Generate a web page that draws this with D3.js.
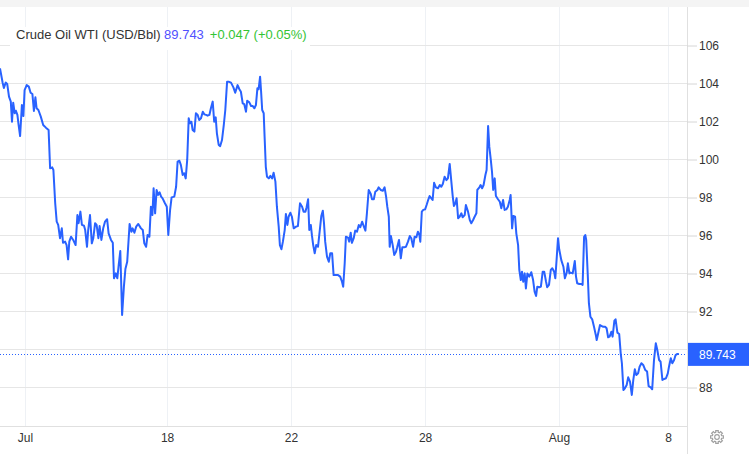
<!DOCTYPE html>
<html>
<head>
<meta charset="utf-8">
<script src="https://cdn.jsdelivr.net/npm/d3@7"></script>
<style>
  body { margin: 0; background: #fff; }
  svg { display: block; font-family: Arial, "Liberation Sans", sans-serif; }
</style>
</head>
<body>
<div id="chart"></div>
<script>
// bar index along the session axis (weekends removed)
const times = [
  0, 0.9, 1.3, 1.9, 2.4, 3.0, 3.6, 4.0, 4.4, 4.9, 5.3, 5.8, 6.2, 6.7, 7.3, 7.8, 8.2, 8.9, 9.6, 10.2,
  10.8, 11.3, 11.8, 12.2, 12.8, 13.6, 14.4, 15.3, 16.2, 16.7, 17.4, 17.8, 18.4, 18.9, 19.4, 20.0, 20.6, 21.0, 21.7, 22.2,
  22.7, 23.1, 23.7, 24.4, 25.2, 25.8, 26.2, 26.8, 27.3, 28.0, 28.4, 29.0, 29.4, 30.0, 30.6, 31.1, 31.7, 32.2, 32.8, 33.2,
  33.8, 34.4, 35.0, 35.7, 36.2, 37.0, 37.6, 38.0, 38.6, 39.1, 39.6, 40.1, 40.7, 41.3, 41.8, 42.4, 43.2, 43.8, 44.2, 44.8,
  45.4, 46.1, 47.0, 47.6, 48.1, 48.7, 49.2, 49.8, 50.3, 50.8, 51.2, 51.7, 52.2, 52.7, 53.2, 53.7, 54.2, 54.9, 55.6, 56.1,
  56.7, 57.2, 58.1, 58.7, 59.2, 59.8, 60.3, 60.9, 61.4, 61.9, 62.4, 62.9, 63.3, 63.8, 64.2, 64.8, 65.3, 65.9, 66.4, 67.0,
  67.6, 68.1, 68.7, 69.2, 69.8, 70.3, 70.9, 71.4, 71.9, 72.3, 72.9, 73.4, 74.0, 74.6, 75.1, 75.7, 76.2, 77.0, 77.8, 78.4,
  79.2, 79.8, 80.3, 80.9, 81.4, 82.0, 82.4, 83.1, 83.7, 84.2, 84.8, 85.3, 85.8, 86.2, 86.7, 87.0, 87.4, 87.9, 88.2, 88.6,
  89.0, 89.6, 90.1, 90.7, 91.2, 91.8, 92.3, 92.9, 93.3, 93.8, 94.3, 94.9, 95.3, 95.8, 96.2, 96.8, 97.3, 97.9, 98.7, 99.3,
  100.0, 100.7, 101.2, 101.8, 102.2, 102.7, 103.1, 103.6, 104.0, 104.4, 104.9, 105.4, 106.0, 106.6, 107.1, 107.6, 108.0, 108.4, 109.0, 109.6,
  110.1, 110.7, 111.2, 112.0, 112.7, 113.4, 114.0, 114.4, 114.9, 115.3, 116.0, 116.4, 116.9, 117.3, 117.9, 118.4, 119.0, 119.6, 120.1, 120.7,
  121.3, 121.8, 122.3, 122.9, 123.6, 124.0, 124.6, 125.1, 125.8, 126.2, 126.9, 127.6, 128.2, 128.7, 129.1, 129.6, 129.9, 130.3, 130.9, 131.4,
  132.0, 132.4, 133.0, 133.6, 134.1, 134.7, 135.3, 136.0, 136.6, 137.1, 137.7, 138.2, 138.8, 139.3, 139.8, 140.1, 140.6, 141.1, 141.7, 142.2,
  142.8, 143.2, 143.8, 144.2, 144.7, 145.3, 146.0, 146.6, 147.1, 147.6, 148.2, 148.8, 149.3, 149.9, 150.4, 150.9, 151.3, 151.8, 152.2, 152.7,
  153.2, 153.8, 154.2, 154.9, 155.3, 156.0, 156.6, 157.1, 157.7, 158.2, 158.8, 159.1, 159.8, 160.2, 160.7, 161.2, 161.8, 162.2, 162.7, 163.1,
  163.6, 164.0, 164.4, 164.9, 165.3, 166.0, 166.6, 167.1, 167.7, 168.2, 168.8, 169.3, 169.9, 170.2, 170.7, 171.1, 171.7, 172.1, 172.7, 173.1,
  173.6, 174.0, 174.4, 174.9, 175.3, 175.8, 176.4, 177.1, 177.7, 178.2, 178.7, 179.1, 179.8, 180.3, 180.9, 181.4, 182.0, 182.4, 183.0, 183.6,
  184.1, 184.7, 185.1, 185.6, 186.0, 186.4, 187.1, 187.8, 188.3, 188.9, 189.3, 189.8, 190.2, 190.9, 191.6, 192.0, 192.4, 193.1, 193.8, 194.2,
  194.7, 195.1, 195.4, 195.9, 196.3, 196.8, 197.4, 198.0, 198.6, 198.9, 199.4, 200.0, 200.6, 201.1, 201.7, 202.2, 202.7, 203.2, 203.8, 204.2,
  204.8, 205.2, 205.8, 206.4, 206.9, 207.3, 207.8, 208.3, 208.9, 209.4, 210.0, 210.6, 211.1, 211.6, 212.1, 212.7, 213.2, 213.8, 214.4, 215.1,
  215.7, 216.2, 216.9, 217.4, 218.0, 218.6, 219.1, 219.7, 220.2, 220.8, 221.3, 222.0, 222.6, 223.0, 223.6, 224.1, 224.7, 225.2, 225.8, 226.3
]
const prices = [
  104.77, 104.0, 103.74, 104.02, 103.95, 103.28, 103.02, 101.96, 102.96, 102.41, 102.54, 102.32, 101.79, 101.21, 102.84, 102.26, 103.63, 103.89, 103.81, 103.49,
  103.42, 102.53, 103.25, 102.67, 102.58, 102.23, 101.79, 101.65, 101.53, 99.51, 99.56, 99.42, 97.67, 96.70, 96.53, 95.83, 96.35, 95.59, 95.65, 95.47,
  94.72, 95.65, 95.91, 95.74, 95.47, 97.05, 96.62, 97.23, 96.53, 96.49, 96.26, 95.38, 96.26, 97.05, 95.56, 95.83, 96.62, 96.53, 95.83, 96.47,
  95.74, 96.35, 96.70, 96.83, 96.09, 95.74, 95.59, 93.72, 93.98, 93.72, 94.47, 95.16, 91.79, 93.28, 94.21, 94.59, 96.58, 96.17, 96.35, 96.12,
  96.44, 96.58, 96.35, 96.26, 95.56, 95.38, 96.0, 95.91, 97.49, 97.05, 98.46, 97.14, 98.37, 98.11, 98.25, 98.02, 97.93, 97.70, 97.49, 96.0,
  97.32, 97.98, 98.02, 98.54, 99.86, 99.91, 99.68, 99.16, 99.25, 98.98, 99.95, 102.14, 101.88, 101.96, 101.53, 101.44, 102.41, 102.32, 102.05, 102.14,
  102.49, 102.35, 102.32, 102.28, 102.32, 102.67, 103.02, 101.96, 102.19, 101.35, 100.74, 100.68, 101.0, 101.79, 102.58, 104.07, 104.07, 104.02, 103.77, 103.49,
  103.89, 103.67, 103.54, 102.93, 102.89, 102.49, 103.07, 102.98, 102.79, 102.79, 102.67, 102.84, 103.72, 103.67, 104.33, 103.63, 102.58, 102.41, 101.17, 99.59,
  99.07, 98.98, 99.11, 98.98, 99.28, 98.81, 97.49, 96.44, 95.47, 95.25, 95.65, 96.26, 97.11, 96.53, 96.96, 97.17, 96.96, 96.35, 96.44, 96.47,
  97.67, 97.49, 97.23, 97.23, 97.46, 97.88, 96.26, 96.53, 95.95, 95.47, 95.04, 95.47, 95.38, 96.26, 97.0, 97.28, 96.62, 95.65, 94.86, 94.59,
  95.04, 95.04, 93.89, 93.89, 93.89, 93.81, 93.54, 93.28, 94.51, 95.91, 95.86, 95.65, 96.12, 95.59, 95.83, 96.23, 96.17, 96.53, 96.41, 96.70,
  96.44, 96.23, 97.14, 98.37, 98.16, 97.88, 97.88, 98.28, 98.37, 98.51, 98.37, 98.33, 98.51, 98.02, 97.49, 96.96, 95.38, 95.95, 95.47, 94.95,
  95.12, 95.35, 95.74, 94.77, 95.35, 95.35, 95.38, 95.65, 95.95, 95.83, 95.38, 95.91, 95.88, 96.17, 96.0, 95.65, 97.23, 97.32, 97.35, 97.58,
  97.88, 98.05, 97.93, 97.84, 98.75, 98.51, 98.46, 98.63, 98.54, 98.68, 99.07, 98.89, 98.98, 99.74, 98.89, 98.05, 97.53, 97.67, 97.93, 96.88,
  96.96, 97.14, 96.93, 97.05, 97.58, 97.23, 96.79, 96.62, 96.79, 96.96, 97.14, 98.37, 98.51, 98.63, 98.46, 98.63, 99.16, 99.42, 101.74, 100.65,
  99.95, 99.33, 98.37, 98.98, 98.05, 97.88, 97.75, 97.41, 97.84, 97.32, 97.35, 97.49, 97.84, 98.11, 96.35, 97.0, 96.96, 96.09, 95.47, 94.16,
  93.63, 94.07, 93.54, 93.98, 93.19, 93.98, 93.81, 94.04, 93.63, 93.02, 92.79, 93.28, 93.25, 93.28, 94.07, 94.07, 93.55, 93.25, 93.37, 94.16,
  94.25, 94.07, 93.72, 94.86, 95.83, 95.25, 94.68, 94.33, 93.72, 94.02, 94.51, 93.98, 94.02, 93.98, 94.63, 93.81, 93.46, 93.42, 93.42, 93.37,
  95.91, 96.0, 95.74, 93.98, 92.41, 91.70, 91.56, 91.17, 90.74, 90.47, 90.83, 91.26, 91.21, 91.17, 91.17, 91.09, 90.62, 90.65, 90.91, 90.65,
  91.49, 91.56, 90.86, 90.79, 89.77, 89.25, 87.84, 87.93, 88.11, 88.51, 88.28, 87.58, 88.37, 88.93, 88.63, 88.72, 89.07, 89.25, 89.16, 88.89,
  88.81, 88.05, 87.98, 87.88, 89.42, 90.30, 89.95, 89.42, 89.33, 88.37, 88.41, 88.46, 88.72, 89.07, 89.51, 89.25, 89.42, 89.68, 89.74, 89.743
]
const tickLabels = ['Jul', '18', '22', '28', 'Aug', '8']
const tickTimes = [8.3, 55.7, 97, 141.7, 186.3, 222.7]
const gridValues = [88, 90, 92, 94, 96, 98, 100, 102, 104, 106]
const yTicks = [88, 92, 94, 96, 98, 100, 102, 104, 106]
const lastPrice = 89.743
const change = '+0.047 (+0.05%)'

const width = 749, height = 454
const plot = { left: 0, right: 687, top: 7, bottom: 426 }
const lineColor = '#2962ff'
const gridColor = '#e6e6e6'

const svg = d3.select('#chart').append('svg')
  .attr('width', width)
  .attr('height', height)

// top gray band
svg.append('rect')
  .attr('x', 0).attr('y', 0)
  .attr('width', width).attr('height', plot.top)
  .attr('fill', '#f4f4f4')

const xScale = d3.scaleLinear()
  .domain([0, 229])
  .range([plot.left, plot.right])

const yScale = d3.scaleLinear()
  .domain([86, 108])
  .range([425, plot.top])

// vertical grid
svg.append('g')
  .selectAll('line')
  .data(tickTimes)
  .join('line')
  .attr('x1', d => Math.round(xScale(d)) + 0.5)
  .attr('x2', d => Math.round(xScale(d)) + 0.5)
  .attr('y1', plot.top)
  .attr('y2', plot.bottom)
  .attr('stroke', '#eef1f5')

// horizontal grid
svg.append('g')
  .selectAll('line')
  .data(gridValues)
  .join('line')
  .attr('x1', plot.left)
  .attr('x2', plot.right)
  .attr('y1', d => Math.round(yScale(d)) + 0.5)
  .attr('y2', d => Math.round(yScale(d)) + 0.5)
  .attr('stroke', gridColor)

// bottom axis line and right border
svg.append('line')
  .attr('x1', 0).attr('x2', plot.right)
  .attr('y1', plot.bottom + 0.5).attr('y2', plot.bottom + 0.5)
  .attr('stroke', '#e0e0e0')
svg.append('line')
  .attr('x1', plot.right + 0.5).attr('x2', plot.right + 0.5)
  .attr('y1', plot.top).attr('y2', height)
  .attr('stroke', '#e0e0e0')

// right axis (90 sits under the price label)
const yAxis = d3.axisRight(yScale)
  .tickValues(yTicks)
  .tickSize(10)
  .tickPadding(2)
  .tickFormat(d3.format('d'))
const yAxisGroup = svg.append('g')
  .attr('transform', `translate(${plot.right}, 0.5)`)
  .call(yAxis)
yAxisGroup.select('.domain').remove()
yAxisGroup.selectAll('line').attr('stroke', '#d6d6d6')
yAxisGroup.selectAll('text')
  .attr('fill', '#333')
  .style('font-size', '12px')
  .style('font-family', 'Arial, "Liberation Sans", sans-serif')

// bottom axis labels
const xAxis = d3.axisBottom(xScale)
  .tickValues(tickTimes)
  .tickSize(0)
  .tickPadding(7)
  .tickFormat((d, i) => tickLabels[i])
const xAxisGroup = svg.append('g')
  .attr('transform', `translate(0, ${plot.bottom})`)
  .call(xAxis)
xAxisGroup.select('.domain').remove()
xAxisGroup.selectAll('text')
  .attr('fill', '#333')
  .style('font-size', '12px')
  .style('font-family', 'Arial, "Liberation Sans", sans-serif')

// last price dotted line
svg.append('line')
  .attr('x1', 0).attr('x2', plot.right)
  .attr('y1', Math.round(yScale(lastPrice)) + 0.5)
  .attr('y2', Math.round(yScale(lastPrice)) + 0.5)
  .attr('stroke', lineColor)
  .attr('stroke-dasharray', '1,2')

// price line
const line = d3.line()
  .x((d, i) => xScale(times[i]))
  .y(d => yScale(d))
svg.append('path')
  .datum(prices)
  .attr('d', line)
  .attr('fill', 'none')
  .attr('stroke', lineColor)
  .attr('stroke-width', 2)
  .attr('stroke-linejoin', 'round')

// price label on the axis
const py = yScale(lastPrice)
svg.append('rect')
  .attr('x', plot.right + 1)
  .attr('y', py - 11)
  .attr('width', width - plot.right - 1)
  .attr('height', 23)
  .attr('fill', lineColor)
svg.append('text')
  .attr('x', plot.right + 12)
  .attr('y', py + 5)
  .attr('fill', '#fff')
  .style('font-size', '12px')
  .text(lastPrice.toFixed(3))

// legend
const legend = svg.append('g')
legend.append('rect')
  .attr('x', 10).attr('y', 27)
  .attr('width', 300).attr('height', 23)
  .attr('fill', '#fff')
const legendText = legend.append('text')
  .attr('x', 16)
  .attr('y', 39)
  .style('font-size', '13px')
legendText.append('tspan').attr('fill', '#333').text('Crude Oil WTI (USD/Bbl) ')
legendText.append('tspan').attr('fill', '#5050ff').text(lastPrice.toFixed(3))
legendText.append('tspan').attr('fill', '#33c433').attr('dx', 6).text(change)

// settings gear
const gear = svg.append('g')
  .attr('transform', 'translate(717, 437)')
  .attr('fill', 'none')
  .attr('stroke', '#a0a0a0')
  .attr('stroke-width', 1.2)
gear.append('circle').attr('r', 2.3)
gear.append('path')
  .attr('d', d3.range(8).map(i => {
    const a0 = (i * 45 - 11) * Math.PI / 180, a1 = (i * 45 + 11) * Math.PI / 180
    const b0 = (i * 45 + 15) * Math.PI / 180, b1 = (i * 45 + 30) * Math.PI / 180
    const p = (r, a) => `${(r * Math.cos(a)).toFixed(2)},${(r * Math.sin(a)).toFixed(2)}`
    return (i === 0 ? 'M' : 'L') + p(6.5, a0) + 'L' + p(6.5, a1) + 'L' + p(4.8, b0) + 'L' + p(4.8, b1)
  }).join('') + 'Z')
</script>
</body>
</html>
